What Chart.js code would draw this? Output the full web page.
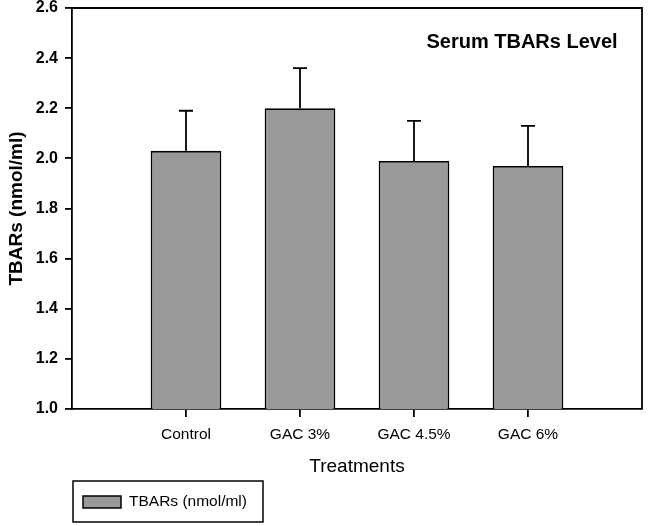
<!DOCTYPE html>
<html>
<head>
<meta charset="utf-8">
<script src="https://cdn.jsdelivr.net/npm/chart.js@4/dist/chart.umd.min.js"></script>
<style>
  html, body { margin: 0; padding: 0; background: #fff; }
  #wrap { width: 649px; height: 526px; }
</style>
</head>
<body>
<div id="wrap"><canvas id="tbarsChart"></canvas></div>
<script>
// Data
const categories = ['', 'Control', 'GAC 3%', 'GAC 4.5%', 'GAC 6%', ''];
const tbarsMean = [null, 2.03, 2.20, 1.99, 1.97, null];
const tbarsErr = [null, 0.16, 0.16, 0.16, 0.16, null];
const yTicks = [1.0, 1.2, 1.4, 1.6, 1.8, 2.0, 2.2, 2.4, 2.6];

const FONT = '"Liberation Sans", Arial, sans-serif';
const BAR_GRAY = '#999999';

// Upward-only error bars with caps
const errorBars = {
    id: 'errorBars',
    afterDatasetsDraw(chart) {
        const ctx = chart.ctx;
        const meta = chart.getDatasetMeta(0);
        const y = chart.scales.y;
        ctx.save();
        ctx.strokeStyle = '#000';
        ctx.lineWidth = 1.8;
        meta.data.forEach((bar, i) => {
            if (tbarsMean[i] == null) return;
            const top = y.getPixelForValue(tbarsMean[i] + tbarsErr[i]);
            ctx.beginPath();
            ctx.moveTo(bar.x, bar.y);
            ctx.lineTo(bar.x, top);
            ctx.moveTo(bar.x - 7, top);
            ctx.lineTo(bar.x + 7, top);
            ctx.stroke();
        });
        ctx.restore();
    }
};

// Frame, in-plot title and boxed legend
const decorations = {
    id: 'decorations',
    afterDraw(chart) {
        const ctx = chart.ctx;
        const a = chart.chartArea;
        ctx.save();
        ctx.strokeStyle = '#000';
        ctx.lineWidth = 1.8;
        ctx.beginPath();
        ctx.moveTo(a.left, a.top);
        ctx.lineTo(a.right, a.top);
        ctx.lineTo(a.right, a.bottom);
        ctx.stroke();

        ctx.fillStyle = '#000';
        ctx.font = 'bold 20px ' + FONT;
        ctx.textAlign = 'center';
        ctx.textBaseline = 'middle';
        ctx.fillText('Serum TBARs Level', 522, 42);

        // legend
        ctx.lineWidth = 1.5;
        ctx.strokeRect(73, 481, 190, 41);
        ctx.fillStyle = BAR_GRAY;
        ctx.fillRect(83, 496, 38, 12);
        ctx.strokeRect(83, 496, 38, 12);
        ctx.fillStyle = '#000';
        ctx.font = '15.5px ' + FONT;
        ctx.textAlign = 'left';
        ctx.fillText(chart.data.datasets[0].label, 129, 502);
        ctx.restore();
    }
};

function noScalePadding(scale) {
    scale.paddingTop = 0;
    scale.paddingBottom = 0;
    scale.paddingLeft = 0;
    scale.paddingRight = 0;
}

new Chart(document.getElementById('tbarsChart'), {
    type: 'bar',
    data: {
        labels: categories,
        datasets: [{
            label: 'TBARs (nmol/ml)',
            data: tbarsMean,
            backgroundColor: BAR_GRAY,
            borderColor: '#000',
            borderWidth: 1.8,
            categoryPercentage: 1,
            barPercentage: 0.62
        }]
    },
    options: {
        responsive: true,
        maintainAspectRatio: false,
        animation: false,
        layout: { padding: { top: 8, right: 7, left: 0, bottom: 0 } },
        plugins: {
            legend: { display: false },
            tooltip: { enabled: false }
        },
        scales: {
            x: {
                offset: false,
                afterFit: scale => { scale.height = 117; noScalePadding(scale); },
                grid: {
                    offset: false,
                    drawOnChartArea: false,
                    tickLength: 8,
                    lineWidth: 1.8,
                    tickColor: c => (c.index === 0 || c.index === categories.length - 1) ? 'rgba(0,0,0,0)' : '#000'
                },
                border: { color: '#000', width: 1.8 },
                ticks: {
                    color: '#000',
                    padding: 8,
                    maxRotation: 0,
                    autoSkip: false,
                    font: { family: FONT, size: 15.5 }
                },
                title: {
                    display: true,
                    text: 'Treatments',
                    color: '#000',
                    padding: { top: 4, bottom: 48 },
                    font: { family: FONT, size: 19 }
                }
            },
            y: {
                min: yTicks[0],
                max: yTicks[yTicks.length - 1],
                afterFit: scale => { scale.width = 72; noScalePadding(scale); },
                afterBuildTicks: scale => { scale.ticks = yTicks.map(v => ({ value: v })); },
                grid: {
                    drawOnChartArea: false,
                    tickLength: 7,
                    lineWidth: 1.8,
                    tickColor: '#000'
                },
                border: { color: '#000', width: 1.8 },
                ticks: {
                    color: '#000',
                    padding: 7,
                    font: { family: FONT, size: 16, weight: 'bold' },
                    callback: v => v.toFixed(1)
                },
                title: {
                    display: true,
                    text: 'TBARs (nmol/ml)',
                    color: '#000',
                    padding: { top: 5, bottom: 0 },
                    font: { family: FONT, size: 19, weight: 'bold' }
                }
            }
        }
    },
    plugins: [errorBars, decorations]
});
</script>
</body>
</html>
